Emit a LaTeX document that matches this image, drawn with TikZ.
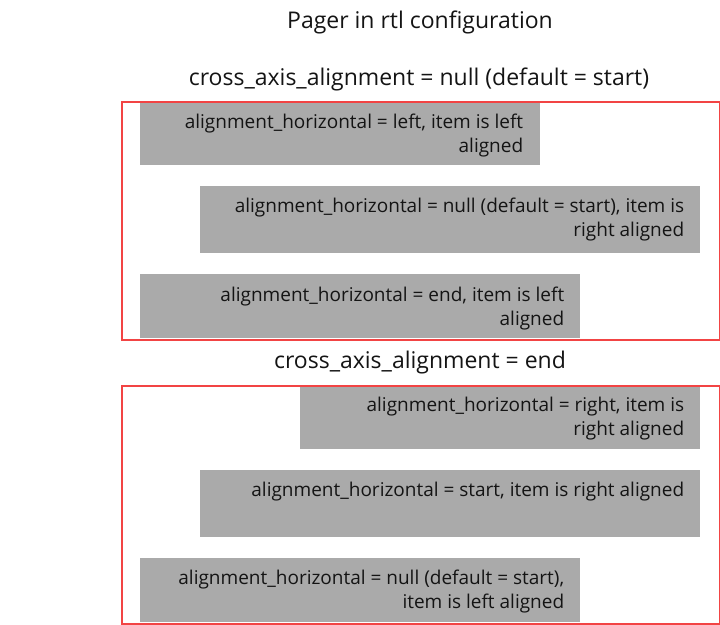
\documentclass[tikz,border=0pt]{standalone}
\usepackage{fontspec}
\setmainfont{Open Sans}
\definecolor{boxgray}{RGB}{170,170,170}
\definecolor{framered}{RGB}{242,68,68}
\definecolor{txt}{RGB}{20,20,20}
\begin{document}
\begin{tikzpicture}[x=1pt,y=-1pt,
  graybox/.style={fill=boxgray, draw=none, anchor=north west, inner sep=0pt},
  itemtext/.style={anchor=north east, align=right, inner sep=0pt, text=txt,
    font=\fontsize{19}{24}\selectfont},
  titletext/.style={anchor=base, inner sep=0pt, text=txt, font=\fontsize{23}{26}\selectfont},
  frame/.style={draw=framered, line width=1.6pt, anchor=north west, inner sep=0pt}]
\useasboundingbox (0,0) rectangle (720,624);
\node[titletext] (title) at (420,28) {Pager in rtl configuration};
\node[titletext] (h1) at (419,85) {cross\_axis\_alignment = null (default = start)};
\node[titletext] (h2) at (420,368) {cross\_axis\_alignment = end};
% section 1
\node[graybox, minimum width=400pt, minimum height=64pt] (g1) at (140,101) {};
\node[itemtext] (t1) at ([xshift=-17pt,yshift=-13pt]g1.north east) {alignment\_horizontal = left, item is left\\aligned};
\node[graybox, minimum width=500pt, minimum height=67pt] (g2) at (200,186) {};
\node[itemtext] (t2) at ([xshift=-16pt,yshift=-12pt]g2.north east) {alignment\_horizontal = null (default = start), item is\\right aligned};
\node[graybox, minimum width=440pt, minimum height=64pt] (g3) at (140,274) {};
\node[itemtext] (t3) at ([xshift=-16pt,yshift=-13pt]g3.north east) {alignment\_horizontal = end, item is left\\aligned};
% section 2
\node[graybox, minimum width=400pt, minimum height=63pt] (g4) at (300,386) {};
\node[itemtext] (t4) at ([xshift=-16pt,yshift=-11pt]g4.north east) {alignment\_horizontal = right, item is\\right aligned};
\node[graybox, minimum width=500pt, minimum height=67pt] (g5) at (200,470) {};
\node[itemtext] (t5) at ([xshift=-16pt,yshift=-12pt]g5.north east) {alignment\_horizontal = start, item is right aligned};
\node[graybox, minimum width=440pt, minimum height=64pt] (g6) at (140,558) {};
\node[itemtext] (t6) at ([xshift=-16pt,yshift=-12pt]g6.north east) {alignment\_horizontal = null (default = start),\\item is left aligned};
% frames
\node[frame, minimum width=598pt, minimum height=238pt] (f1) at (121,101) {};
\node[frame, minimum width=598pt, minimum height=238pt] (f2) at (121,385) {};
\end{tikzpicture}
\end{document}
